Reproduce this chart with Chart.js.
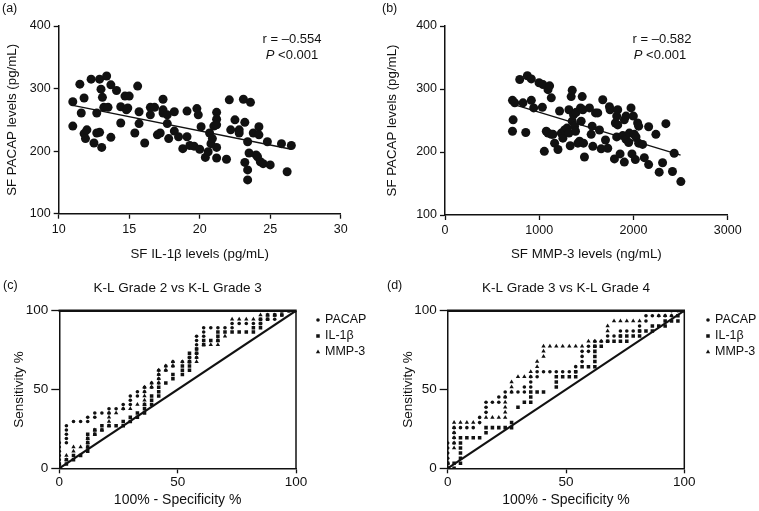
<!DOCTYPE html>
<html>
<head>
<meta charset="utf-8">
<script src="https://cdn.jsdelivr.net/npm/chart.js@4.4.1/dist/chart.umd.min.js"></script>
<style>
  html, body { margin: 0; padding: 0; background: #fff; }
  #wrap { position: relative; width: 759px; height: 511px; overflow: hidden; }
  canvas { position: absolute; }
</style>
</head>
<body>
<div id="wrap">
  <canvas id="chartA" width="380" height="270" style="left:0;top:0"></canvas>
  <canvas id="chartB" width="379" height="270" style="left:380px;top:0"></canvas>
  <canvas id="chartC" width="380" height="241" style="left:0;top:270px"></canvas>
  <canvas id="chartD" width="379" height="241" style="left:380px;top:270px"></canvas>
</div>
<script>
// (a) SF IL-1b (pg/mL) vs SF PACAP (pg/mL)
const il1bVsPacap = [
  [11.0,279],[11.0,240],[11.5,307],[11.6,261],[11.8,285],[11.8,228],[11.9,220],[12.0,234],[12.3,315],[12.5,213],
  [12.7,261],[12.7,229],[12.9,315],[12.9,230],[13.0,299],[13.05,206],[13.1,286],[13.2,270],[13.4,320],[13.5,270],
  [13.7,306],[13.7,222],[14.1,297],[14.4,271],[14.4,245],[14.7,288],[14.8,266],[15.0,288],[14.9,269],[15.4,229],
  [15.6,304],[15.7,263],[15.7,244],[16.1,213],[16.5,258],[16.5,270],[16.8,270],[17.0,226],[17.2,229],[17.4,283],
  [17.4,261],[17.4,266],[17.7,258],[17.7,244],[17.8,220],[18.2,263],[18.2,232],[18.5,223],[18.8,204],[19.1,264],
  [19.1,223],[19.3,209],[19.6,208],[19.8,268],[19.9,258],[20.0,203],[20.1,239],[20.4,190],[20.6,199],[20.7,229],
  [20.8,212],[20.9,220],[21.0,240],[21.2,262],[21.2,251],[21.2,242],[21.2,206],[21.2,189],[21.9,187],[22.1,282],
  [22.2,234],[22.5,250],[22.8,234],[22.8,229],[23.1,283],[23.2,246],[23.2,182],[23.4,215],[23.4,170],[23.4,154],
  [23.6,278],[23.5,197],[23.8,229],[24.0,194],[24.1,191],[24.2,239],[24.2,226],[24.3,183],[24.5,180],[24.8,215],
  [25.0,178],[25.8,212],[26.2,167],[26.5,209]
];
const fitA = [[11.0,273],[26.5,203]];
const statsA = ['r = \u20130.554', '<0.001'];

// (b) SF MMP-3 (ng/mL) vs SF PACAP (pg/mL)
const mmp3VsPacap = [
  [716,282],[723,251],[716,233],[740,278],[793,315],[828,278],[857,231],[874,321],[916,316],[916,282],
  [941,270],[998,310],[1033,271],[1040,307],[1054,201],[1075,233],[1093,299],[1110,305],[1093,230],[1128,286],
  [1128,228],[1146,228],[1163,214],[1199,204],[1216,265],[1234,230],[1251,222],[1269,235],[1294,238],[1315,267],
  [1315,230],[1329,210],[1339,288],[1350,298],[1350,249],[1364,259],[1375,241],[1385,233],[1392,263],[1410,214],
  [1428,217],[1438,270],[1445,249],[1456,288],[1463,267],[1470,214],[1480,192],[1533,270],[1551,228],[1569,209],
  [1562,241],[1597,262],[1621,262],[1639,235],[1657,205],[1674,283],[1703,219],[1727,206],[1745,272],[1752,267],
  [1798,189],[1808,246],[1822,257],[1833,267],[1833,243],[1822,224],[1858,197],[1886,226],[1903,251],[1903,184],
  [1921,257],[1921,220],[1949,215],[1956,230],[1974,270],[1984,197],[1999,257],[2009,228],[2020,188],[2027,224],
  [2044,246],[2055,241],[2055,214],[2097,212],[2115,191],[2161,240],[2161,180],[2238,228],[2273,168],[2309,183],
  [2344,245],[2414,169],[2432,198],[2503,153]
];
const fitB = [[716,276],[2500,195]];
const statsB = ['r = \u20130.582', '<0.001'];

// ROC columns: [100% - specificity, [sensitivity values at that step]]
const rocSeries = ['PACAP', 'IL-1\u03b2', 'MMP-3'];

// (c) K-L Grade 2 vs K-L Grade 3
const rocC_pacap = [
  [0,[0,2.7,5.4,8.1,10.8,13.5,16.2]],[3,[16.2,18.9,21.6,24.3,27]],[6,[29.7]],[9,[29.7]],[12,[29.7,32.4]],
  [15,[32.4,35.1]],[18,[35.1]],[21,[35.1,37.8]],[24,[37.8]],[27,[37.8,40.5]],[30,[40.5,43.2,45.9]],
  [33,[45.9,48.6]],[36,[48.6,51.4]],[39,[51.4,54.1]],[42,[54.1,56.8,59.5,62.2]],[45,[62.2,64.9]],
  [48,[64.9,67.6]],[52,[67.6]],[55,[67.6,70.3]],[58,[70.3,73,75.7,78.4,81.1,83.8]],[61,[83.8,86.5,89.2]],
  [64,[89.2]],[67,[89.2]],[70,[89.2]],[73,[89.2,91.9]],[76,[91.9]],[79,[91.9]],[82,[91.9]],
  [85,[91.9,94.6]],[88,[94.6]],[91,[94.6,97.3]],[94,[97.3,100]],[97,[100]],[100,[100]]
];
const rocC_il1b = [
  [0,[0,2.7]],[3,[2.7,5.4]],[6,[5.4,8.1]],[9,[8.1]],[12,[10.8,13.5,16.2,18.9,21.6]],[15,[21.6,24.3]],
  [18,[24.3,27]],[21,[27]],[24,[27]],[27,[27,29.7]],[30,[29.7,32.4]],[33,[32.4,35.1]],[36,[35.1,37.8,40.5]],
  [39,[40.5,43.2,45.9]],[42,[45.9,48.6,51.4]],[45,[54.1]],[48,[56.8,59.5]],[52,[59.5,62.2,64.9]],
  [55,[62.2,64.9,67.6,70.3,73]],[58,[73,75.7]],[61,[78.4,81.1]],[64,[81.1]],[67,[81.1,83.8,86.5]],
  [70,[86.5]],[73,[86.5]],[76,[86.5]],[79,[86.5]],[82,[86.5,89.2]],[85,[89.2,91.9,94.6]],[88,[94.6,97.3]],
  [91,[97.3]],[94,[97.3,100]],[97,[100]],[100,[100]]
];
const rocC_mmp3 = [
  [0,[0,2.7]],[3,[5.4,8.1]],[6,[10.8,13.5]],[9,[13.5]],[12,[13.5,16.2,18.9]],[15,[21.6,24.3]],[18,[24.3]],
  [21,[27,29.7,32.4,35.1]],[24,[35.1]],[27,[37.8]],[30,[37.8]],[33,[40.5]],[36,[40.5,43.2,45.9,48.6,51.4]],
  [39,[51.4,54.1]],[42,[54.1,56.8,59.5,62.2]],[45,[62.2,64.9]],[48,[64.9,67.6]],[52,[67.6]],[55,[67.6]],
  [58,[67.6,70.3]],[61,[78.4]],[64,[78.4]],[67,[78.4,81.1]],[70,[83.8]],[73,[94.6]],[76,[94.6]],[79,[94.6]],
  [82,[94.6]],[85,[97.3]],[88,[97.3]],[91,[97.3]],[94,[100]],[97,[100]],[100,[100]]
];

// (d) K-L Grade 3 vs K-L Grade 4
const rocD_pacap = [
  [0,[0,3.2,6.4,9.7,12.9,16.1]],[2.7,[16.1,19.4,22.6,25.8]],[5.4,[25.8]],[8.1,[25.8]],[10.8,[25.8]],
  [13.5,[29,32.3]],[16.2,[35.5,38.7,41.9]],[18.9,[41.9]],[21.6,[41.9,45.2]],[24.3,[45.2,48.4]],[27,[48.4]],
  [29.7,[48.4]],[32.4,[48.4,51.6]],[35.1,[51.6,54.8,58.1]],[37.8,[58.1,61.3]],[40.5,[61.3]],[43.2,[61.3]],
  [45.9,[61.3]],[48.6,[61.3]],[51.4,[61.3]],[54.1,[61.3,64.5]],[56.8,[67.7,71,74.2]],[59.5,[74.2,77.4]],
  [62.2,[77.4,80.6]],[64.9,[80.6]],[67.6,[80.6,83.9]],[70.3,[83.9]],[73,[83.9,87.1]],[75.7,[87.1]],
  [78.4,[87.1]],[81.1,[87.1,90.3]],[83.8,[93.5,96.8]],[86.5,[96.8]],[89.2,[96.8]],[91.9,[96.8]],
  [94.6,[96.8,100]],[97.3,[100]],[100,[100]]
];
const rocD_il1b = [
  [0,[0,3.2]],[2.7,[0,3.2]],[5.4,[3.2,6.4,9.7,12.9,16.1,19.4]],[8.1,[19.4]],[10.8,[19.4]],[13.5,[19.4]],
  [16.2,[22.6,25.8]],[18.9,[25.8]],[21.6,[25.8]],[24.3,[25.8]],[27,[25.8,29]],[29.7,[38.7]],[32.4,[41.9]],
  [35.1,[41.9,45.2,48.4]],[37.8,[48.4]],[40.5,[48.4]],[45.9,[51.6,54.8,58.1]],[48.6,[58.1]],[51.4,[58.1]],
  [54.1,[58.1,61.3]],[56.8,[64.5]],[59.5,[64.5]],[62.2,[64.5,67.7,71,74.2,77.4]],[64.9,[77.4]],[67.6,[80.6]],
  [70.3,[80.6]],[73,[80.6,83.9]],[75.7,[80.6,83.9]],[78.4,[83.9]],[81.1,[83.9,87.1]],[83.8,[87.1]],
  [86.5,[87.1,90.3]],[89.2,[90.3]],[91.9,[90.3,93.5]],[94.6,[93.5]],[97.3,[93.5,96.8]],[100,[100]]
];
const rocD_mmp3 = [
  [0,[0,3.2]],[2.7,[12.9,16.1,19.4,22.6,25.8,29]],[5.4,[29]],[8.1,[29]],[10.8,[29]],[16.2,[32.3]],
  [18.9,[32.3]],[21.6,[32.3]],[24.3,[32.3,35.5,38.7,41.9,45.2]],[27,[48.4,51.6,54.8]],[29.7,[58.1]],
  [32.4,[58.1]],[35.1,[58.1,61.3]],[37.8,[64.5,67.7]],[40.5,[71,74.2,77.4]],[43.2,[77.4]],[45.9,[77.4]],
  [48.6,[77.4]],[51.4,[77.4]],[54.1,[77.4]],[56.8,[77.4]],[59.5,[80.6]],[62.2,[80.6]],[64.9,[80.6]],
  [67.6,[87.1,90.3]],[70.3,[93.5]],[73,[93.5]],[75.7,[93.5]],[78.4,[93.5]],[81.1,[93.5]],[83.8,[100]],
  [86.5,[100]],[89.2,[96.8,100]],[91.9,[96.8,100]],[94.6,[96.8,100]],[97.3,[100]],[100,[100]]
];
const chanceLine = [[0,0],[100,100]];

const FONT = "'Liberation Sans', Arial, Helvetica, sans-serif";
const INK = '#111';
Chart.defaults.font.family = FONT;
Chart.defaults.color = INK;

const toPoints = pairs => pairs.map(([x, y]) => ({x, y}));
const fromColumns = cols => cols.flatMap(([x, ys]) => ys.map(y => ({x, y})));

// texts drawn straight on the canvas (panel letters, r and P values)
const notesPlugin = {
  id: 'notes',
  afterDraw(chart, args, opts) {
    const ctx = chart.ctx;
    (opts.items || []).forEach(it => {
      const parts = it.parts || [{text: it.text}];
      const fonts = parts.map(p => (p.italic ? 'italic ' : '') + (it.size || 13) + 'px ' + FONT);
      ctx.save();
      ctx.fillStyle = INK;
      ctx.textBaseline = 'middle';
      ctx.textAlign = 'left';
      const widths = parts.map((p, i) => { ctx.font = fonts[i]; return ctx.measureText(p.text).width; });
      const total = widths.reduce((a, b) => a + b, 0);
      let x = it.align === 'center' ? it.x - total / 2 : it.x;
      parts.forEach((p, i) => { ctx.font = fonts[i]; ctx.fillText(p.text, x, it.y); x += widths[i]; });
      ctx.restore();
    });
  }
};

// closing top / right edges of the ROC boxes
const framePlugin = {
  id: 'frame',
  afterDatasetsDraw(chart, args, opts) {
    if (!opts.top) return;
    const {ctx, chartArea: a} = chart;
    ctx.save();
    ctx.strokeStyle = INK;
    ctx.lineWidth = opts.right;
    ctx.beginPath(); ctx.moveTo(a.right, a.top); ctx.lineTo(a.right, a.bottom); ctx.stroke();
    ctx.lineWidth = opts.top;
    ctx.beginPath(); ctx.moveTo(a.left - 0.7, a.top); ctx.lineTo(a.right + 0.7, a.top); ctx.stroke();
    ctx.restore();
  }
};

// small marker legend to the right of the ROC box
const markerLegend = {
  id: 'markerLegend',
  afterDraw(chart, args, opts) {
    if (opts.x == null) return;
    const ctx = chart.ctx;
    let row = 0;
    chart.data.datasets.forEach(ds => {
      if (!ds.label) return;
      const y = opts.y + row * opts.gap;
      ctx.save();
      ctx.fillStyle = INK;
      Chart.helpers.drawPoint(ctx, {pointStyle: ds.pointStyle, radius: ds.pointRadius, rotation: 0, borderWidth: 0}, opts.x, y);
      ctx.font = opts.size + 'px ' + FONT;
      ctx.textBaseline = 'middle';
      ctx.fillText(ds.label, opts.x + 7, y);
      ctx.restore();
      row++;
    });
  }
};

function axis(o) {
  return {
    type: 'linear',
    position: o.position,
    min: o.min,
    max: o.max,
    ticks: {
      stepSize: o.step, padding: o.pad, color: INK, font: {size: o.tickSize},
      maxRotation: 0, autoSkip: false, callback: v => String(v)
    },
    grid: {drawOnChartArea: false, drawTicks: true, tickLength: o.tickLen, tickWidth: 1.3, tickColor: INK},
    border: {display: true, color: INK, width: 1.5},
    title: {display: true, text: o.title, color: INK, font: {size: o.titleSize}, padding: o.titlePad},
    afterFit: s => {
      if (o.width != null) s.width = o.width;
      if (o.height != null) s.height = o.height;
    }
  };
}

function scatterChart(id, points, fit, xAx, yAx, pad, notes) {
  return new Chart(document.getElementById(id), {
    type: 'scatter',
    data: {
      datasets: [
        {data: toPoints(points), pointStyle: 'circle', pointRadius: 4.5, backgroundColor: INK, borderWidth: 0},
        {data: toPoints(fit), showLine: true, pointRadius: 0, borderColor: INK, borderWidth: 1.3}
      ]
    },
    options: {
      responsive: false, animation: false, events: [],
      layout: {padding: pad},
      plugins: {legend: {display: false}, tooltip: {enabled: false}, notes: {items: notes}},
      scales: {x: axis(xAx), y: axis(yAx)}
    },
    plugins: [notesPlugin]
  });
}

function rocChart(id, cols, title, yWidth, pad, legendX, notes) {
  const styles = [['circle', 1.8], ['rect', 2.5], ['triangle', 2.5]];
  const datasets = cols.map((c, i) => ({
    label: rocSeries[i], data: fromColumns(c), pointStyle: styles[i][0], pointRadius: styles[i][1],
    backgroundColor: INK, borderWidth: 0
  }));
  datasets.push({data: toPoints(chanceLine), showLine: true, pointRadius: 0, borderColor: INK, borderWidth: 2.2});
  return new Chart(document.getElementById(id), {
    type: 'scatter',
    data: {datasets},
    options: {
      responsive: false, animation: false, events: [],
      layout: {padding: pad},
      plugins: {
        legend: {display: false}, tooltip: {enabled: false},
        title: {display: true, text: title, fullSize: false, color: INK, font: {size: 13.5, weight: 'normal'},
                padding: {top: 10.2, bottom: 14.3}},
        notes: {items: notes},
        frame: {top: 2.6, right: 1.5},
        markerLegend: {x: legendX, y: 50, gap: 16, size: 12.5}
      },
      scales: {
        x: axis({position: 'bottom', min: 0, max: 100, step: 50, pad: 0.5, tickSize: 13.5, tickLen: 5,
                 title: '100% - Specificity %', titleSize: 14, titlePad: {top: 2, bottom: 2.6}, height: 42.7}),
        y: axis({position: 'left', min: 0, max: 100, step: 50, pad: 3, tickSize: 13.5, tickLen: 8,
                 title: 'Sensitivity %', titleSize: 13.5, titlePad: {top: 4, bottom: 2}, width: yWidth})
      }
    },
    plugins: [notesPlugin, framePlugin, markerLegend]
  });
}

const pLine = (cx, y, v) => ({x: cx, y, align: 'center', parts: [{text: 'P', italic: true}, {text: ' ' + v}]});

scatterChart('chartA', il1bVsPacap, fitA,
  {position: 'bottom', min: 10, max: 30, step: 5, pad: 3, tickSize: 12.5, tickLen: 5,
   title: 'SF IL-1\u03b2 levels (pg/mL)', titleSize: 13.3, titlePad: {top: 2, bottom: 7.7}, height: 56.3},
  {position: 'left', min: 100, max: 400, step: 100, pad: 3, tickSize: 12.5, tickLen: 5,
   title: 'SF PACAP levels (pg/mL)', titleSize: 13.3, titlePad: {top: 4, bottom: 2}, width: 58.7},
  {top: 26, right: 39.3, left: 0, bottom: 0},
  [{text: '(a)', x: 2, y: 9, size: 12.5},
   {text: statsA[0], x: 292, y: 39, align: 'center'},
   pLine(292, 55, statsA[1])]
);

scatterChart('chartB', mmp3VsPacap, fitB,
  {position: 'bottom', min: 0, max: 3000, step: 1000, pad: 3, tickSize: 12.5, tickLen: 5,
   title: 'SF MMP-3 levels (ng/mL)', titleSize: 13.3, titlePad: {top: 2, bottom: 7.7}, height: 55},
  {position: 'left', min: 100, max: 400, step: 100, pad: 3, tickSize: 12.5, tickLen: 5,
   title: 'SF PACAP levels (pg/mL)', titleSize: 13.3, titlePad: {top: 4, bottom: 2}, width: 65},
  {top: 26, right: 31.3, left: 0, bottom: 0},
  [{text: '(b)', x: 2, y: 9, size: 12.5},
   {text: statsB[0], x: 282, y: 39, align: 'center'},
   pLine(280, 55, statsB[1])]
);

rocChart('chartC', [rocC_pacap, rocC_il1b, rocC_mmp3], 'K-L Grade 2 vs K-L Grade 3', 52.4,
  {top: 0, right: 84, left: 6.9, bottom: 0}, 318,
  [{text: '(c)', x: 3, y: 16, size: 12.5}]
);

rocChart('chartD', [rocD_pacap, rocD_il1b, rocD_mmp3], 'K-L Grade 3 vs K-L Grade 4', 51.5,
  {top: 0, right: 74.7, left: 16.2, bottom: 0}, 328,
  [{text: '(d)', x: 7, y: 16, size: 12.5}]
);
</script>
</body>
</html>
